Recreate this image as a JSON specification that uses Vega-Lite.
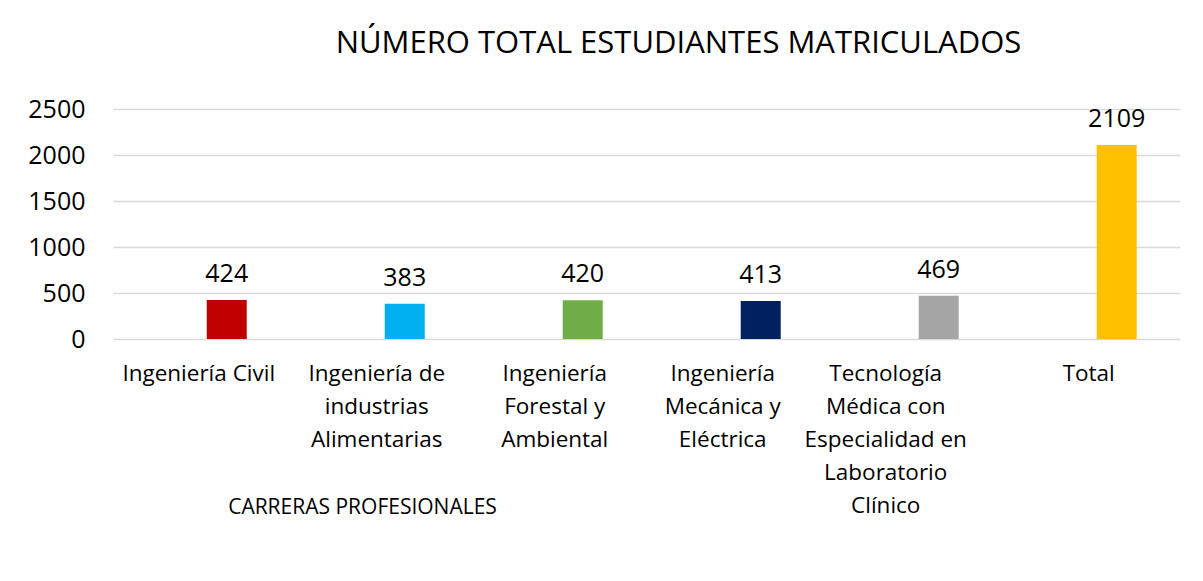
{
  "$schema": "https://vega.github.io/schema/vega-lite/v6.json",
  "autosize": {"type": "none"},
  "width": 1067,
  "height": 230,
  "padding": {"left": 113, "top": 109, "right": 23, "bottom": 242},
  "background": "white",
  "title": {
    "text": "NÚMERO TOTAL ESTUDIANTES MATRICULADOS",
    "font": "Open Sans",
    "fontSize": 31,
    "fontWeight": "normal",
    "color": "#000000",
    "anchor": "middle",
    "baseline": "alphabetic",
    "offset": 13,
    "dx": 32
  },
  "config": {
    "view": {"stroke": null},
    "font": "Open Sans"
  },
  "data": {
    "values": [
      {"carrera": "Ingeniería Civil", "estudiantes": 424, "grupo": "c1"},
      {"carrera": "Ingeniería de|industrias|Alimentarias", "estudiantes": 383, "grupo": "c2"},
      {"carrera": "Ingeniería|Forestal y|Ambiental", "estudiantes": 420, "grupo": "c3"},
      {"carrera": "Ingeniería|Mecánica y|Eléctrica", "estudiantes": 413, "grupo": "c4"},
      {"carrera": "Tecnología|Médica  con|Especialidad  en|Laboratorio|Clínico", "estudiantes": 469, "grupo": "c5"},
      {"carrera": "Total", "estudiantes": 2109, "grupo": "c6"}
    ]
  },
  "encoding": {
    "x": {
      "field": "carrera",
      "type": "nominal",
      "sort": null,
      "scale": {"paddingInner": 0.7753, "paddingOuter": 0.385, "align": 0.684},
      "axis": {
        "title": "CARRERAS PROFESIONALES",
        "titleFont": "Open Sans",
        "titleFontSize": 21,
        "titleFontWeight": "normal",
        "titleColor": "#000000",
        "titleX": 249,
        "titleY": 168,
        "titleAlign": "center",
        "titleBaseline": "middle",
        "titleAnchor": null,
        "labelExpr": "split(datum.label, '|')",
        "labelAngle": 0,
        "labelFont": "Open Sans",
        "labelFontSize": 22.5,
        "labelColor": "#000000",
        "labelLineHeight": 33,
        "labelBaseline": "top",
        "labelPadding": 23,
        "labelOffset": {
          "condition": [
            {"test": "indexof(datum.value, 'Tecnolog') == 0", "value": -53},
            {"test": "indexof(datum.value, 'Ingeniería|Mec') == 0", "value": -38}
          ],
          "value": -28
        },
        "labelLimit": 0,
        "labelOverlap": false,
        "domain": false,
        "ticks": false
      }
    },
    "y": {
      "field": "estudiantes",
      "type": "quantitative",
      "scale": {"domain": [0, 2500], "nice": false},
      "axis": {
        "title": null,
        "values": [0, 500, 1000, 1500, 2000, 2500],
        "format": "d",
        "labelFont": "Open Sans",
        "labelFontSize": 25,
        "labelColor": "#000000",
        "labelPadding": 28,
        "domain": false,
        "ticks": false,
        "grid": true,
        "gridColor": "#D9D9D9",
        "gridWidth": 1.5
      }
    }
  },
  "layer": [
    {
      "mark": {"type": "bar"},
      "encoding": {
        "color": {
          "field": "grupo",
          "type": "nominal",
          "scale": {
            "domain": ["c1", "c2", "c3", "c4", "c5", "c6"],
            "range": ["#C00000", "#00B0F0", "#70AD47", "#002060", "#A5A5A5", "#FFC000"]
          },
          "legend": null
        }
      }
    },
    {
      "mark": {"type": "text", "font": "Open Sans", "fontSize": 25, "color": "#000000", "baseline": "alphabetic", "dy": -18},
      "encoding": {
        "text": {"field": "estudiantes", "type": "quantitative", "format": "d"}
      }
    }
  ]
}
